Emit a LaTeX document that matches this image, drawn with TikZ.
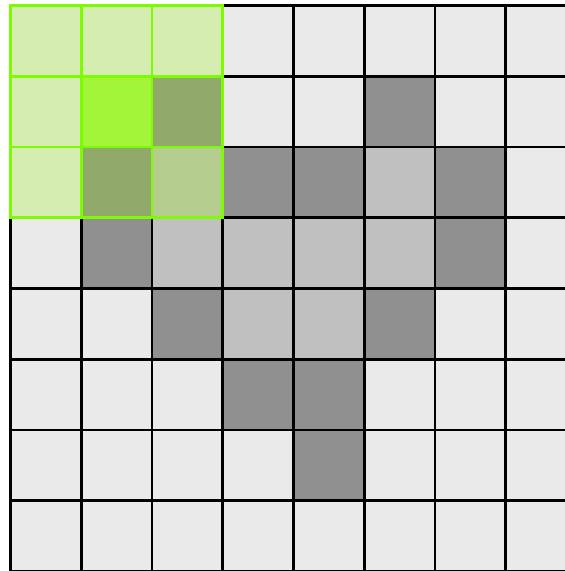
\documentclass[tikz,border=0pt]{standalone}
\definecolor{cL}{HTML}{EAEAEA}
\definecolor{cM}{HTML}{C0C0C0}
\definecolor{cD}{HTML}{909090}
\definecolor{ga}{HTML}{D5EDB1}
\definecolor{gb}{HTML}{A3F53A}
\definecolor{gc}{HTML}{91AA6C}
\definecolor{gd}{HTML}{B5CE8F}
\definecolor{gborder}{HTML}{7CFC00}
\begin{document}
\begin{tikzpicture}[x=1pt,y=1pt,
  cell/.style={draw=black, line width=2.6pt, minimum size=70.75pt, inner sep=0pt, outer sep=0pt, anchor=north west},
  gcell/.style={cell, draw=gborder, line width=2.8pt}]
\useasboundingbox (0,0) rectangle (565,-571);
\clip (0,0) rectangle (565,-571);
\fill[white] (0,0) rectangle (565,-571);
\foreach \rowlist [count=\r from 0] in {
  {G,G,G,L,L,L,L,L},
  {G,G,G,L,L,D,L,L},
  {G,G,G,D,D,M,D,L},
  {L,D,M,M,M,M,D,L},
  {L,L,D,M,M,D,L,L},
  {L,L,L,D,D,L,L,L},
  {L,L,L,L,D,L,L,L},
  {L,L,L,L,L,L,L,L}} {
  \foreach \c [count=\k from 0] in \rowlist {
    \if\c G\else
      \node[cell, fill=c\c] (n-\r-\k) at ({10.5+70.75*\k},{-5.5-70.75*\r}) {};
    \fi
  }
}
\foreach \rowlist [count=\r from 0] in {{a,a,a},{a,b,c},{a,c,d}} {
  \foreach \c [count=\k from 0] in \rowlist {
    \node[gcell, fill=g\c] (n-\r-\k) at ({10.5+70.75*\k},{-5.5-70.75*\r}) {};
  }
}
\end{tikzpicture}
\end{document}
